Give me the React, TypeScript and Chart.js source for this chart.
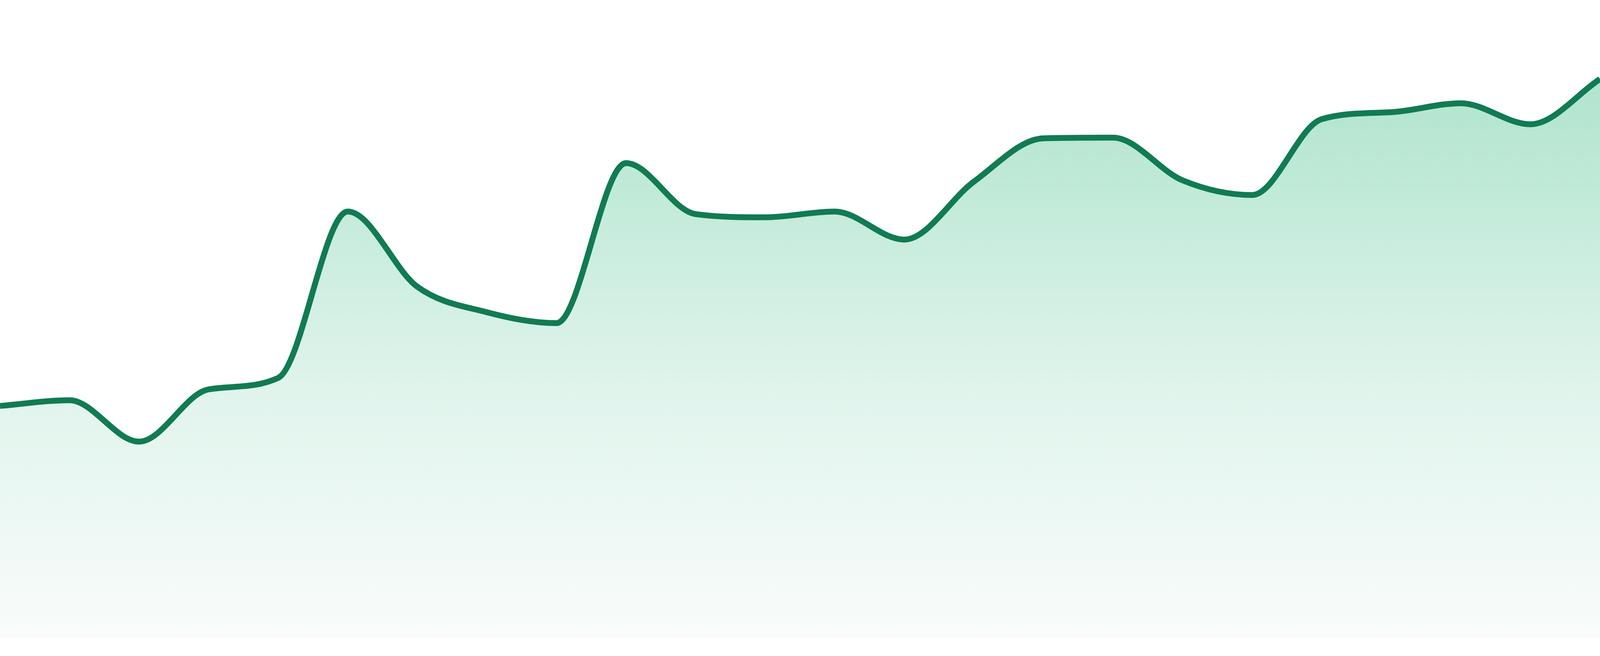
import React, { useEffect, useRef } from "react";
import { Chart, registerables } from "chart.js";

Chart.register(...registerables);

const categories = [
  "P01", "P02", "P03", "P04", "P05", "P06", "P07", "P08",
  "P09", "P10", "P11", "P12", "P13", "P14", "P15", "P16",
  "P17", "P18", "P19", "P20", "P21", "P22", "P23", "P24",
];

const seriesValues = [
  36.3, 37.2, 30.7, 38.9, 40.7, 66.8, 55.0, 51.0,
  49.3, 74.4, 66.4, 65.9, 66.8, 62.4, 71.5, 78.3,
  78.4, 71.7, 69.4, 81.3, 82.4, 83.8, 80.5, 87.6,
];

const yMin = 0;
const yMax = 100;

const lineColor = "#117b52";
const fillStops: [number, string][] = [
  [0, "rgb(168,225,203)"],
  [0.18, "rgb(181,230,209)"],
  [0.61, "rgb(224,244,236)"],
  [1, "rgb(249,252,251)"],
];

export default function App() {
  const canvasRef = useRef<HTMLCanvasElement | null>(null);

  useEffect(() => {
    const canvas = canvasRef.current;
    if (!canvas) return;
    const chart = new Chart(canvas, {
      type: "line",
      data: {
        labels: categories,
        datasets: [
          {
            data: seriesValues,
            borderColor: lineColor,
            borderWidth: 15,
            pointRadius: 0,
            pointHoverRadius: 0,
            cubicInterpolationMode: "monotone",
            fill: "start",
            backgroundColor: (ctx: any) => {
              const { chart: ch } = ctx;
              const area = ch.chartArea;
              if (!area) return "rgba(0,0,0,0)";
              const g = ch.ctx.createLinearGradient(0, area.top, 0, area.bottom);
              fillStops.forEach(([o, c]) => g.addColorStop(o, c));
              return g;
            },
          },
        ],
      },
      options: {
        animation: false,
        responsive: true,
        maintainAspectRatio: false,
        layout: { padding: 0 },
        plugins: {
          legend: { display: false },
          tooltip: { enabled: false },
        },
        scales: {
          x: { display: false, offset: false },
          y: { display: false, min: yMin, max: yMax },
        },
      },
    });
    return () => chart.destroy();
  }, []);

  return (
    <div
      style={{
        position: "absolute",
        left: 0,
        top: 0,
        right: 0,
        height: "1632px",
      }}
    >
      <canvas ref={canvasRef} />
    </div>
  );
}
